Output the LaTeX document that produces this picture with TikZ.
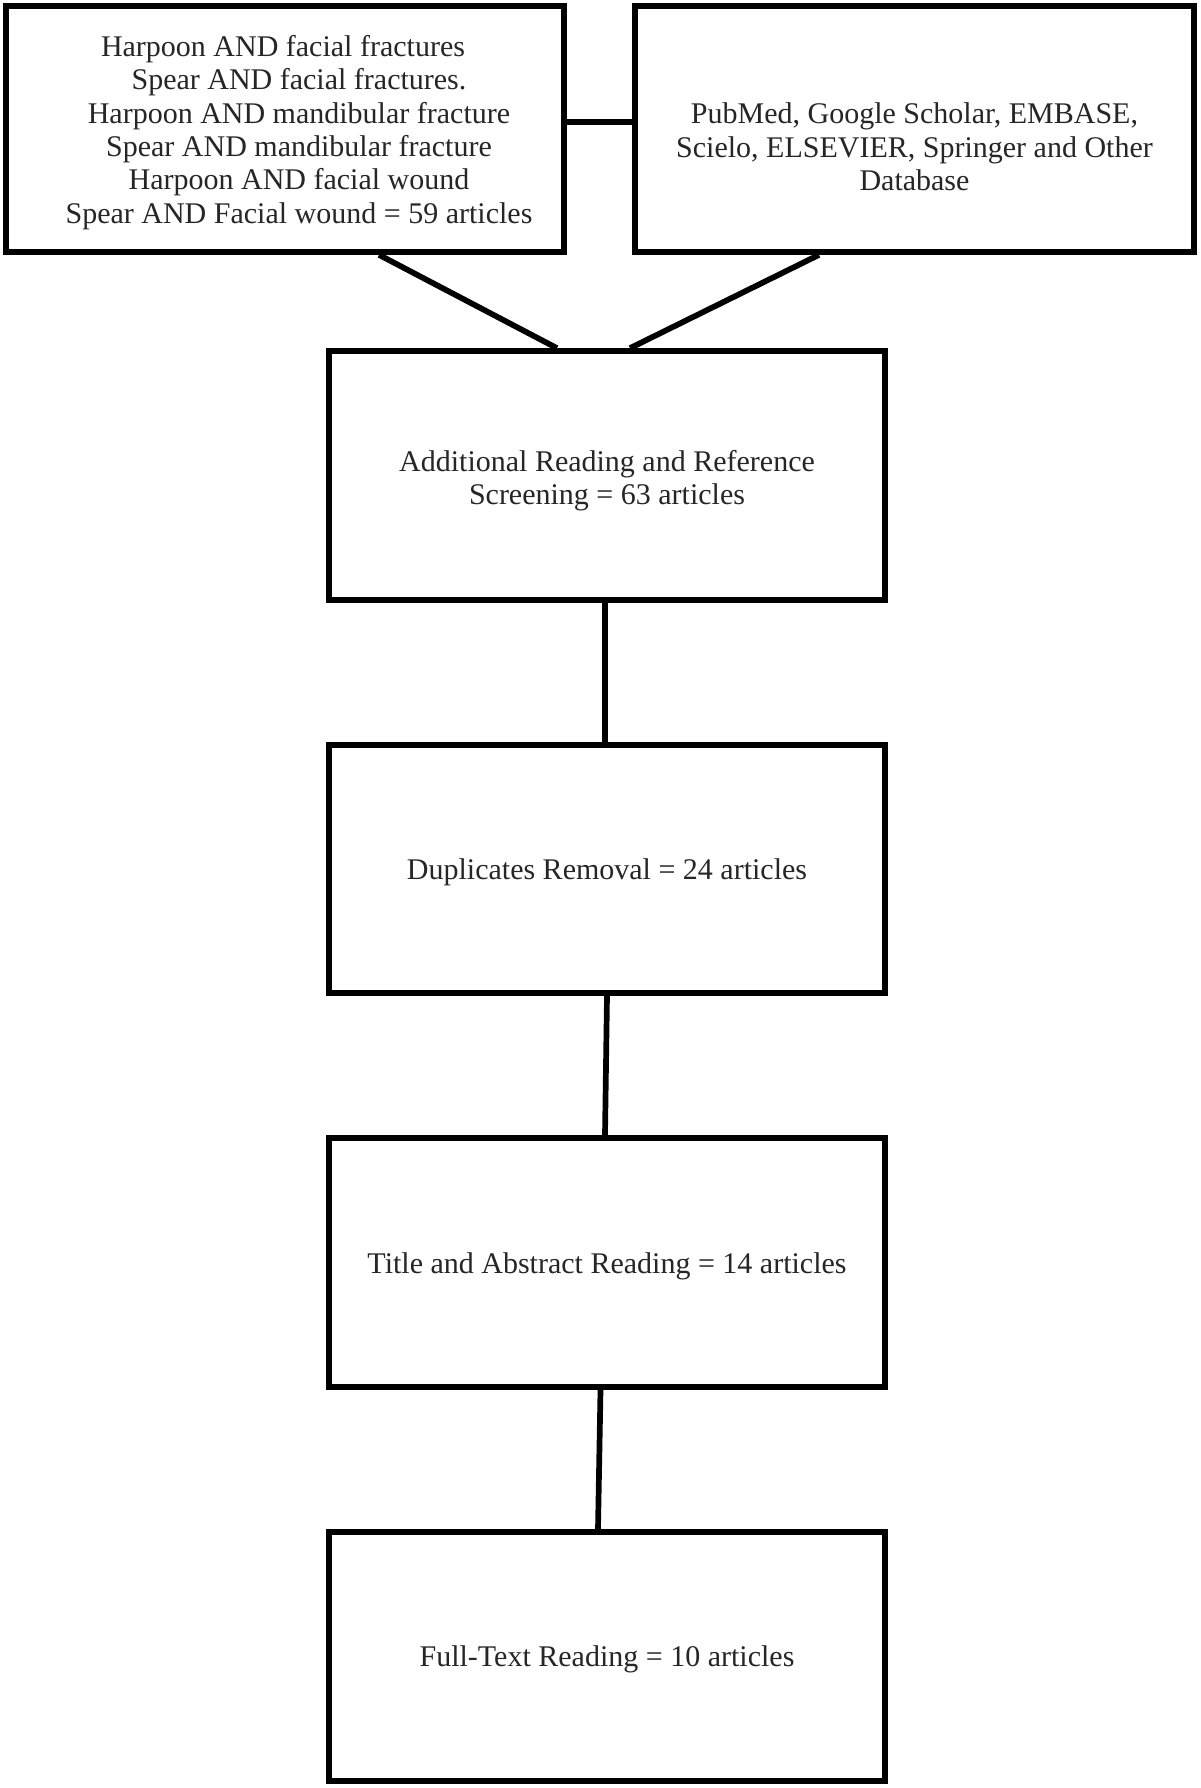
\documentclass[tikz,border=0pt]{standalone}
\usepackage{fontspec}
\setmainfont{Liberation Serif}
\begin{document}
\begin{tikzpicture}[x=0.5pt,y=-0.5pt,
  box/.style={draw=black,line width=2.85pt,fill=white,inner sep=0pt},
  txt/.style={font=\fontsize{15pt}{16.7pt}\selectfont,text=black!85,align=center,inner sep=0pt},
  link/.style={draw=black,line width=2.85pt}]
\useasboundingbox[fill=white] (0,0) rectangle (1200,1788);
% boxes
\node[box,minimum width=279pt,minimum height=123pt] (q) at (285,129) {};
\node[txt] (qt) at (299,132.5)
  {Harpoon AND facial fractures\hspace*{16pt}\\
   Spear AND facial fractures.\\
   Harpoon AND mandibular fracture\\
   Spear AND mandibular fracture\\
   Harpoon AND facial wound\\
   Spear AND Facial wound = 59 articles};
\node[box,minimum width=279.5pt,minimum height=123pt] (db) at (914.5,129) {};
\node[txt] (dbt) at (914.5,147)
  {PubMed, Google Scholar, EMBASE,\\Scielo, ELSEVIER, Springer and Other\\Database};
\node[box,minimum width=278pt,minimum height=124.5pt] (b2) at (607,475.5) {};
\node[txt] (b2t) at (607,480.5) {Additional Reading and Reference\\Screening = 63 articles};
\node[box,minimum width=278pt,minimum height=124pt] (b3) at (607,869) {};
\node[txt] (b3t) at (607,872.5) {Duplicates Removal = 24 articles};
\node[box,minimum width=278pt,minimum height=124.5pt] (b4) at (607,1262.5) {};
\node[txt] (b4t) at (607,1266) {Title and Abstract Reading = 14 articles};
\node[box,minimum width=278pt,minimum height=124.5pt] (b5) at (607,1656.5) {};
\node[txt] (b5t) at (607,1659) {Full-Text Reading = 10 articles};
% connectors
\draw[link] ([yshift=3.5pt]q.east) -- ([yshift=3.5pt]db.west);
\draw[link] ([xshift=47pt]q.south) -- ([xshift=-25pt]b2.north);
\draw[link] ([xshift=-47.75pt]db.south) -- ([xshift=11.5pt]b2.north);
\draw[link] ([xshift=-1pt]b2.south) -- ([xshift=-1pt]b3.north);
\draw[link] (b3.south) -- ([xshift=-1pt]b4.north);
\draw[link] ([xshift=-3.25pt]b4.south) -- ([xshift=-4.5pt]b5.north);
\end{tikzpicture}
\end{document}
